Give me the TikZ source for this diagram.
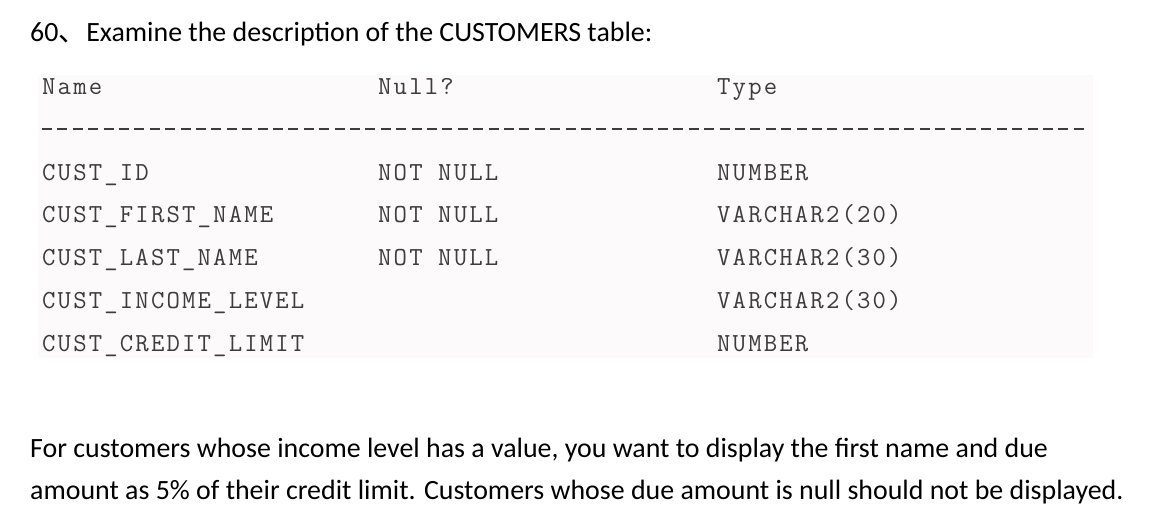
\documentclass[tikz,border=0pt]{standalone}
\usepackage{fontspec}
\setmainfont{Carlito}
\setmonofont{Latin Modern Mono}[LetterSpace=8.3]
\newfontfamily\cjk{Noto Sans CJK SC}
\usetikzlibrary{positioning}
\definecolor{boxgray}{HTML}{FCFAFB}
\definecolor{inkgray}{HTML}{3C3C3C}

\begin{document}
\begin{tikzpicture}[x=1pt,y=-1pt,node distance=42.8pt,on grid,
  mono/.style={font=\fontsize{26}{30}\selectfont\ttfamily,text=inkgray,inner sep=0pt,anchor=base west},
  prose/.style={font=\fontsize{27.9}{33}\selectfont,inner sep=0pt,anchor=base west}]
\useasboundingbox (0,0) rectangle (1150,514);
\fill[boxgray] (38,75) rectangle (1093,358);
\node[prose] (Title) at (30,41) {60{\cjk 、}Examine the description of the CUSTOMERS table:};
% header
\node[mono] (Name) at (42,94) {Name};
\node[mono] (Null) at (378,94) {Null?};
\node[mono] (Type) at (717,94) {Type};
\coordinate (RuleL) at (42,129);
\coordinate (RuleR) at (1088,129);
\draw[inkgray,line width=2pt,dash pattern=on 10pt off 5.4pt] (RuleL) -- (RuleR);
% names
\node[mono] (CustId)     [below=86pt of Name.base west,anchor=base west]      {CUST\_ID};
\node[mono] (CustFirst)  [below=of CustId.base west,anchor=base west]         {CUST\_FIRST\_NAME};
\node[mono] (CustLast)   [below=of CustFirst.base west,anchor=base west]      {CUST\_LAST\_NAME};
\node[mono] (CustIncome) [below=of CustLast.base west,anchor=base west]       {CUST\_INCOME\_LEVEL};
\node[mono] (CustCredit) [below=of CustIncome.base west,anchor=base west]     {CUST\_CREDIT\_LIMIT};
% null?
\node[mono] (NullId)     [below=86pt of Null.base west,anchor=base west]      {NOT NULL};
\node[mono] (NullFirst)  [below=of NullId.base west,anchor=base west]         {NOT NULL};
\node[mono] (NullLast)   [below=of NullFirst.base west,anchor=base west]      {NOT NULL};
% types
\node[mono] (TypeId)     [below=86pt of Type.base west,anchor=base west]      {NUMBER};
\node[mono] (TypeFirst)  [below=of TypeId.base west,anchor=base west]         {VARCHAR2(20)};
\node[mono] (TypeLast)   [below=of TypeFirst.base west,anchor=base west]      {VARCHAR2(30)};
\node[mono] (TypeIncome) [below=of TypeLast.base west,anchor=base west]       {VARCHAR2(30)};
\node[mono] (TypeCredit) [below=of TypeIncome.base west,anchor=base west]     {NUMBER};
% question
\node[prose] (AskOne) at (30,457) {For customers whose income level has a value, you want to display the first name and due};
\node[prose] (AskTwo) [below=of AskOne.base west,anchor=base west] {amount as 5\% of their credit limit. Customers whose due amount is null should not be displayed.};
\end{tikzpicture}
\end{document}
